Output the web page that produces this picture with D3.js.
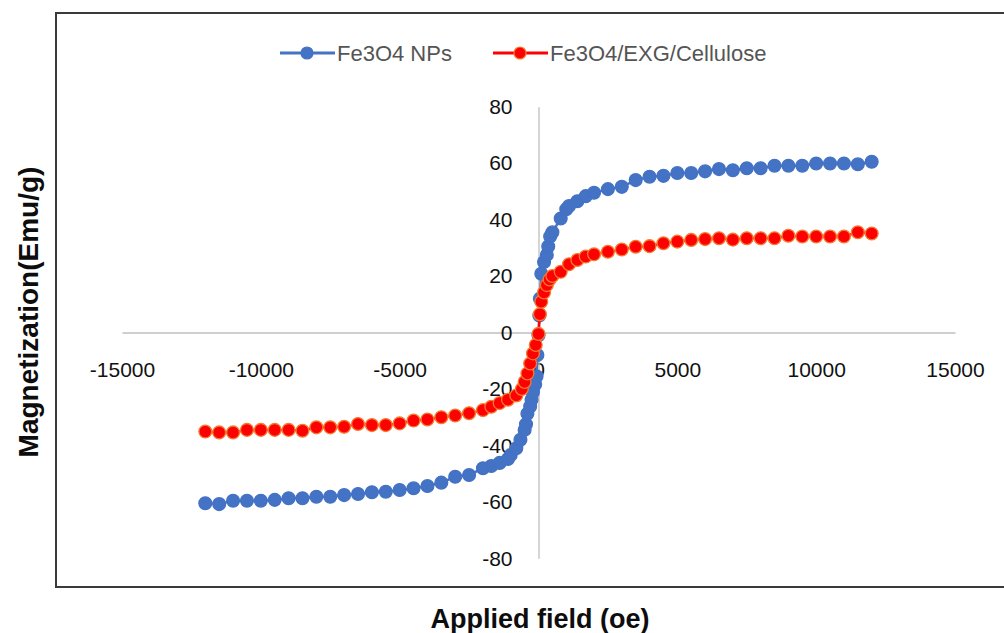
<!DOCTYPE html>
<html>
<head>
<meta charset="utf-8">
<script src="https://cdn.jsdelivr.net/npm/d3@7"></script>
<style>
  body { margin: 0; background: #fff; }
  svg { display: block; font-family: "Liberation Sans", Arial, sans-serif; }
</style>
</head>
<body>
<svg width="1004" height="633"></svg>
<script>
// applied field (Oe) and magnetization (emu/g)
var blueField = [-12000,-11500,-11000,-10500,-10000,-9500,-9000,-8500,-8000,-7500,-7000,-6500,-6000,-5500,-5000,-4500,-4000,-3500,-3000,-2500,-2000,-1700,-1400,-1100,-1000,-800,-650,-500,-450,-400,-300,-250,-200,-120,-70,-40,0,30,50,100,200,300,350,420,500,800,1000,1100,1400,1700,2000,2500,3000,3500,4000,4500,5000,5500,6000,6500,7000,7500,8000,8500,9000,9500,10000,10500,11000,11500,12000];
var blueM = [-60.5,-60.8,-59.6,-59.6,-59.6,-59.3,-58.7,-58.7,-58.2,-58.2,-57.6,-57.2,-56.6,-56.4,-55.8,-55.2,-54.4,-53.2,-51.1,-50.5,-48.1,-47.3,-46.2,-44.8,-43.4,-41,-38,-34.5,-32.5,-28.8,-26.2,-23.8,-21.2,-18.4,-15.5,-8,-1,6,12,20.8,25,27.5,30.5,34,35.5,40.4,43.7,44.8,46.5,48.3,49.5,50.8,51.6,54,55.2,55.5,56.5,56.5,57.1,57.9,57.5,58.2,58.2,59.1,59.1,59.1,59.9,59.9,59.9,59.6,60.5];

var redField = [-12000,-11500,-11000,-10500,-10000,-9500,-9000,-8500,-8000,-7500,-7000,-6500,-6000,-5500,-5000,-4500,-4000,-3500,-3000,-2500,-2000,-1700,-1400,-1100,-800,-600,-500,-400,-300,-200,-100,0,50,100,200,300,400,500,800,1100,1400,1700,2000,2500,3000,3500,4000,4500,5000,5500,6000,6500,7000,7500,8000,8500,9000,9500,10000,10500,11000,11500,12000];
var redM = [-35.1,-35.4,-35.4,-34.5,-34.5,-34.5,-34.5,-34.8,-33.6,-33.6,-33.4,-32.4,-32.8,-32.8,-32.2,-31.2,-30.8,-30,-29.4,-28.6,-27.5,-26.3,-25,-23.8,-22.3,-20,-17.5,-14.5,-11,-7.4,-4.4,-0.5,6.5,10.9,14.2,16.8,18.8,20,21.5,24.2,25.7,26.9,27.7,28.6,29.4,30.4,30.6,31.6,32.2,32.8,33.1,33.4,32.9,33.4,33.4,33.4,34.3,34.0,34.0,34.0,34.0,35.5,35.1];

var xTicks = [-15000,-10000,-5000,0,5000,10000,15000];
var yTicks = [-80,-60,-40,-20,0,20,40,60,80];

var series = [
  {name: "Fe3O4 NPs", field: blueField, m: blueM, color: "#4472C4", edge: "#4472C4"},
  {name: "Fe3O4/EXG/Cellulose", field: redField, m: redM, color: "#FF0000", edge: "#F47A30"}
];

var svg = d3.select("svg");

// chart frame (right side runs off the picture)
svg.append("rect")
  .attr("x", 56).attr("y", 13)
  .attr("width", 1000).attr("height", 574)
  .attr("fill", "none")
  .attr("stroke", "#3a3a3a")
  .attr("stroke-width", 2);

var x = d3.scaleLinear().domain([-15000, 15000]).range([122, 955]);
var y = d3.scaleLinear().domain([-80, 80]).range([558.3, 106.7]);

var plain = function(d){ return String(d); }; // hyphen minus, no thousands comma

var xAxis = svg.append("g")
  .attr("transform", "translate(0," + y(0) + ")")
  .call(d3.axisBottom(x).tickValues(xTicks).tickFormat(plain).tickSize(0).tickPadding(30));
var yAxis = svg.append("g")
  .attr("transform", "translate(" + x(0) + ",0)")
  .call(d3.axisLeft(y).tickValues(yTicks).tickFormat(plain).tickSize(0).tickPadding(26));

[xAxis, yAxis].forEach(function(a){
  a.select(".domain").attr("stroke", "#bfbfbf").attr("stroke-width", 1.3);
  a.selectAll("text")
    .attr("fill", "#111")
    .style("font-size", "21px")
    .style("font-family", "'Liberation Sans', Arial, sans-serif");
});

var line = d3.line()
  .x(function(d){ return x(d[0]); })
  .y(function(d){ return y(d[1]); });

series.forEach(function(s){
  var pts = s.field.map(function(f, i){ return [f, s.m[i]]; });
  var g = svg.append("g");
  g.append("path")
    .datum(pts)
    .attr("d", line)
    .attr("fill", "none")
    .attr("stroke", s.color)
    .attr("stroke-width", 2.5);
  g.selectAll("circle")
    .data(pts)
    .enter().append("circle")
    .attr("cx", function(d){ return x(d[0]); })
    .attr("cy", function(d){ return y(d[1]); })
    .attr("r", 6.4)
    .attr("fill", s.color)
    .attr("stroke", s.edge)
    .attr("stroke-width", 1.3);
});

// legend
var legendX = [280, 493];
series.forEach(function(s, i){
  var lg = svg.append("g").attr("transform", "translate(" + legendX[i] + ",53)");
  lg.append("line")
    .attr("x1", 0).attr("x2", 55)
    .attr("y1", 0).attr("y2", 0)
    .attr("stroke", s.color).attr("stroke-width", 3);
  lg.append("circle")
    .attr("cx", 27).attr("cy", 0).attr("r", 6)
    .attr("fill", s.color).attr("stroke", s.edge).attr("stroke-width", 1.2);
  lg.append("text")
    .attr("x", 57).attr("y", 8)
    .attr("fill", "#555")
    .style("font-size", "22px")
    .text(s.name);
});

// axis titles
svg.append("text")
  .attr("x", 540).attr("y", 628)
  .attr("text-anchor", "middle")
  .style("font-size", "27px")
  .style("font-weight", "bold")
  .attr("fill", "#0d0d0d")
  .text("Applied field (oe)");

svg.append("text")
  .attr("transform", "translate(38,312)rotate(-90)")
  .attr("text-anchor", "middle")
  .style("font-size", "28px")
  .style("font-weight", "bold")
  .attr("fill", "#0d0d0d")
  .text("Magnetization(Emu/g)");
</script>
</body>
</html>
